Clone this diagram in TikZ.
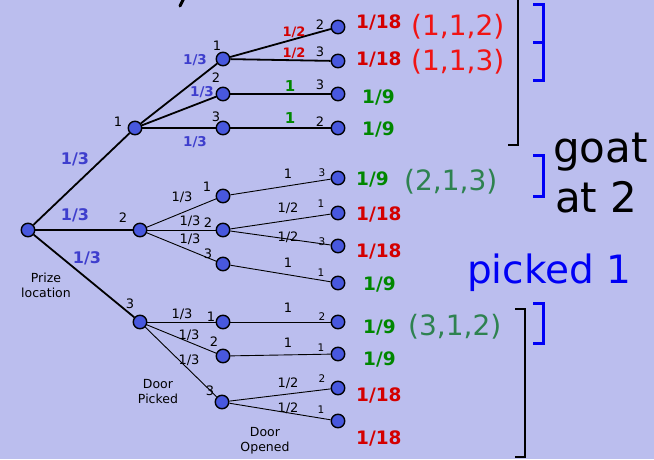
\documentclass[tikz,border=0pt]{standalone}
\usepackage{fontspec}
\setmainfont{DejaVu Sans}
\definecolor{bg}{RGB}{187,190,238}
\definecolor{nodeblue}{RGB}{72,88,222}
\definecolor{problue}{RGB}{62,62,205}
\definecolor{probred}{RGB}{212,0,0}
\definecolor{probgreen}{RGB}{0,135,0}
\definecolor{tupred}{RGB}{240,20,20}
\definecolor{tupgreen}{RGB}{46,130,80}
\definecolor{pickblue}{RGB}{0,0,245}
\newcommand{\fsz}[1]{\fontsize{#1}{#1}\selectfont}
\begin{document}
\begin{tikzpicture}[x=1pt,y=-1pt,
  dot/.style={circle,draw=black,line width=1.4pt,fill=nodeblue,minimum size=13.5pt,inner sep=0pt},
  thickedge/.style={line width=1.8pt},
  thinedge/.style={line width=0.9pt},
  num/.style={inner sep=0pt,font=\fsz{13}},
  tiny/.style={inner sep=0pt,font=\fsz{10.5}},
  rootp/.style={inner sep=0pt,text=problue,font=\bfseries\fsz{16}},
  midp/.style={inner sep=0pt,text=problue,font=\bfseries\fsz{13.5}},
  halfp/.style={inner sep=0pt,text=probred,font=\bfseries\fsz{13}},
  onep/.style={inner sep=0pt,text=probgreen,font=\bfseries\fsz{15}},
  redleaf/.style={anchor=base west,inner sep=0pt,text=probred,font=\bfseries\fsz{18.5}},
  greenleaf/.style={anchor=base west,inner sep=0pt,text=probgreen,font=\bfseries\fsz{18.5}},
  tuple/.style={anchor=base west,inner sep=0pt,font=\fsz{28}},
  caption/.style={inner sep=0pt,align=center,font=\fontsize{12.5}{15}\selectfont},
  bigword/.style={anchor=base west,inner sep=0pt,font=\fsz{42}},
  blackbr/.style={line width=2.6pt},
  bluebr/.style={draw=pickblue,line width=3pt}
]
% background and page size
\fill[bg] (0,0) rectangle (654,459);
\useasboundingbox (0,0) rectangle (654,459);

% cut-off stroke at the upper edge
\draw[line width=3pt,line cap=round] (184,-2) -- (180,6);

% tree nodes
\node[dot] (r) at (28,230) {};
\node[dot] (a1) at (135,128) {};
\node[dot] (a2) at (140,230) {};
\node[dot] (a3) at (140,322) {};
\node[dot] (b11) at (223,59) {};
\node[dot] (b12) at (223,94) {};
\node[dot] (b13) at (223,128) {};
\node[dot] (b21) at (223,196) {};
\node[dot] (b22) at (223,230) {};
\node[dot] (b23) at (223,264) {};
\node[dot] (b31) at (223,322) {};
\node[dot] (b32) at (223,356) {};
\node[dot] (b33) at (222,402) {};
\node[dot] (c1) at (338,27) {};
\node[dot] (c2) at (338,61) {};
\node[dot] (c3) at (338,94) {};
\node[dot] (c4) at (338,128) {};
\node[dot] (c5) at (338,178) {};
\node[dot] (c6) at (338,213) {};
\node[dot] (c7) at (338,246) {};
\node[dot] (c8) at (338,283) {};
\node[dot] (c9) at (338,322) {};
\node[dot] (c10) at (338,354) {};
\node[dot] (c11) at (338,388) {};
\node[dot] (c12) at (338,421) {};

% connectors
\draw[thickedge] (r) -- (a1);
\draw[thickedge] (r) -- (a2);
\draw[thickedge] (r) -- (a3);
\draw[thickedge] (a1) -- (b11);
\draw[thickedge] (a1) -- (b12);
\draw[thickedge] (a1) -- (b13);
\draw[thickedge] (b11) -- (c1);
\draw[thickedge] (b11) -- (c2);
\draw[thickedge] (b12) -- (c3);
\draw[thickedge] (b13) -- (c4);
\draw[thinedge] (a2) -- (b21);
\draw[thinedge] (a2) -- (b22);
\draw[thinedge] (a2) -- (b23);
\draw[thinedge] (b21) -- (c5);
\draw[thinedge] (b22) -- (c6);
\draw[thinedge] (b22) -- (c7);
\draw[thinedge] (b23) -- (c8);
\draw[thinedge] (a3) -- (b31);
\draw[thinedge] (a3) -- (b32);
\draw[thinedge] (a3) -- (b33);
\draw[thinedge] (b31) -- (c9);
\draw[thinedge] (b32) -- (c10);
\draw[thinedge] (b33) -- (c11);
\draw[thinedge] (b33) -- (c12);

% first-level probabilities
\node[rootp] (p1) at (75,159) {1/3};
\node[rootp] (p2) at (75,215) {1/3};
\node[rootp] (p3) at (87,258) {1/3};
\node[num] (n1) at (118,122) {1};
\node[num] (n2) at (123,218) {2};
\node[num] (n3) at (130,304) {3};

% branch 1
\node[midp] (q11) at (195,60) {1/3};
\node[midp] (q12) at (202,92) {1/3};
\node[midp] (q13) at (195,142) {1/3};
\node[num] (m11) at (217,46) {1};
\node[num] (m12) at (216,78) {2};
\node[num] (m13) at (216,117) {3};
\node[halfp] (h1) at (294,32) {1/2};
\node[halfp] (h2) at (294,53) {1/2};
\node[onep] (o1) at (290,86) {1};
\node[onep] (o2) at (290,118) {1};
\node[num] (k1) at (320,25) {2};
\node[num] (k2) at (320,52) {3};
\node[num] (k3) at (320,85) {3};
\node[num] (k4) at (320,122) {2};

% branch 2
\node[num] (q21) at (182,197) {1/3};
\node[num] (m21) at (207,187) {1};
\node[num] (q22) at (190,221) {1/3};
\node[num] (m22) at (208,223) {2};
\node[num] (q23) at (190,239) {1/3};
\node[num] (m23) at (208,254) {3};
\node[num] (e21) at (288,174) {1};
\node[tiny] (k21) at (322,173) {3};
\node[num] (e22) at (288,208) {1/2};
\node[tiny] (k22) at (321,204) {1};
\node[num] (e23) at (288,237) {1/2};
\node[tiny] (k23) at (322,242) {3};
\node[num] (e24) at (288,263) {1};
\node[tiny] (k24) at (321,273) {1};

% branch 3
\node[num] (q31) at (182,314) {1/3};
\node[num] (m31) at (211,317) {1};
\node[num] (q32) at (189,335) {1/3};
\node[num] (m32) at (214,342) {2};
\node[num] (q33) at (189,360) {1/3};
\node[num] (m33) at (210,391) {3};
\node[num] (e31) at (288,308) {1};
\node[tiny] (k31) at (322,317) {2};
\node[num] (e32) at (288,343) {1};
\node[tiny] (k32) at (321,348) {1};
\node[num] (e33) at (288,383) {1/2};
\node[tiny] (k33) at (322,379) {2};
\node[num] (e34) at (288,408) {1/2};
\node[tiny] (k34) at (321,410) {1};

% outcome probabilities
\node[redleaf] (l1) at (356,28) {1/18};
\node[redleaf] (l2) at (356,65) {1/18};
\node[greenleaf] (l3) at (362,103) {1/9};
\node[greenleaf] (l4) at (362,135) {1/9};
\node[greenleaf] (l5) at (356,185) {1/9};
\node[redleaf] (l6) at (356,220) {1/18};
\node[redleaf] (l7) at (356,257) {1/18};
\node[greenleaf] (l8) at (363,290) {1/9};
\node[greenleaf] (l9) at (363,333) {1/9};
\node[greenleaf] (l10) at (363,365) {1/9};
\node[redleaf] (l11) at (356,401) {1/18};
\node[redleaf] (l12) at (356,444) {1/18};

% outcome triples
\node[tuple,text=tupred] (t1) at (411,35) {(1,1,2)};
\node[tuple,text=tupred] (t2) at (411,70) {(1,1,3)};
\node[tuple,text=tupgreen] (t3) at (404,190) {(2,1,3)};
\node[tuple,text=tupgreen] (t4) at (408,335) {(3,1,2)};

% captions
\node[caption] (cap1) at (46,285) {Prize\\location};
\node[caption] (cap2) at (158,392) {Door\\Picked};
\node[caption] (cap3) at (265,441) {Door\\Opened};

% remarks on the right
\node[bigword] (w1) at (553,162) {goat};
\node[bigword] (w2) at (555,212) {at 2};
\node[bigword,text=pickblue,font=\fsz{39}] (w3) at (467,283) {picked 1};

% brackets
\draw[blackbr] (508,145) -- (518,145) -- (518,-3);
\draw[bluebr] (533,4) -- (543,4) -- (543,80) -- (533,80);
\draw[bluebr] (533,42) -- (543,42);
\draw[bluebr] (533,155) -- (543,155) -- (543,196) -- (533,196);
\draw[bluebr] (533,303) -- (543,303) -- (543,343) -- (533,343);
\draw[blackbr] (515,309) -- (525,309) -- (525,457) -- (515,457);
\end{tikzpicture}
\end{document}
